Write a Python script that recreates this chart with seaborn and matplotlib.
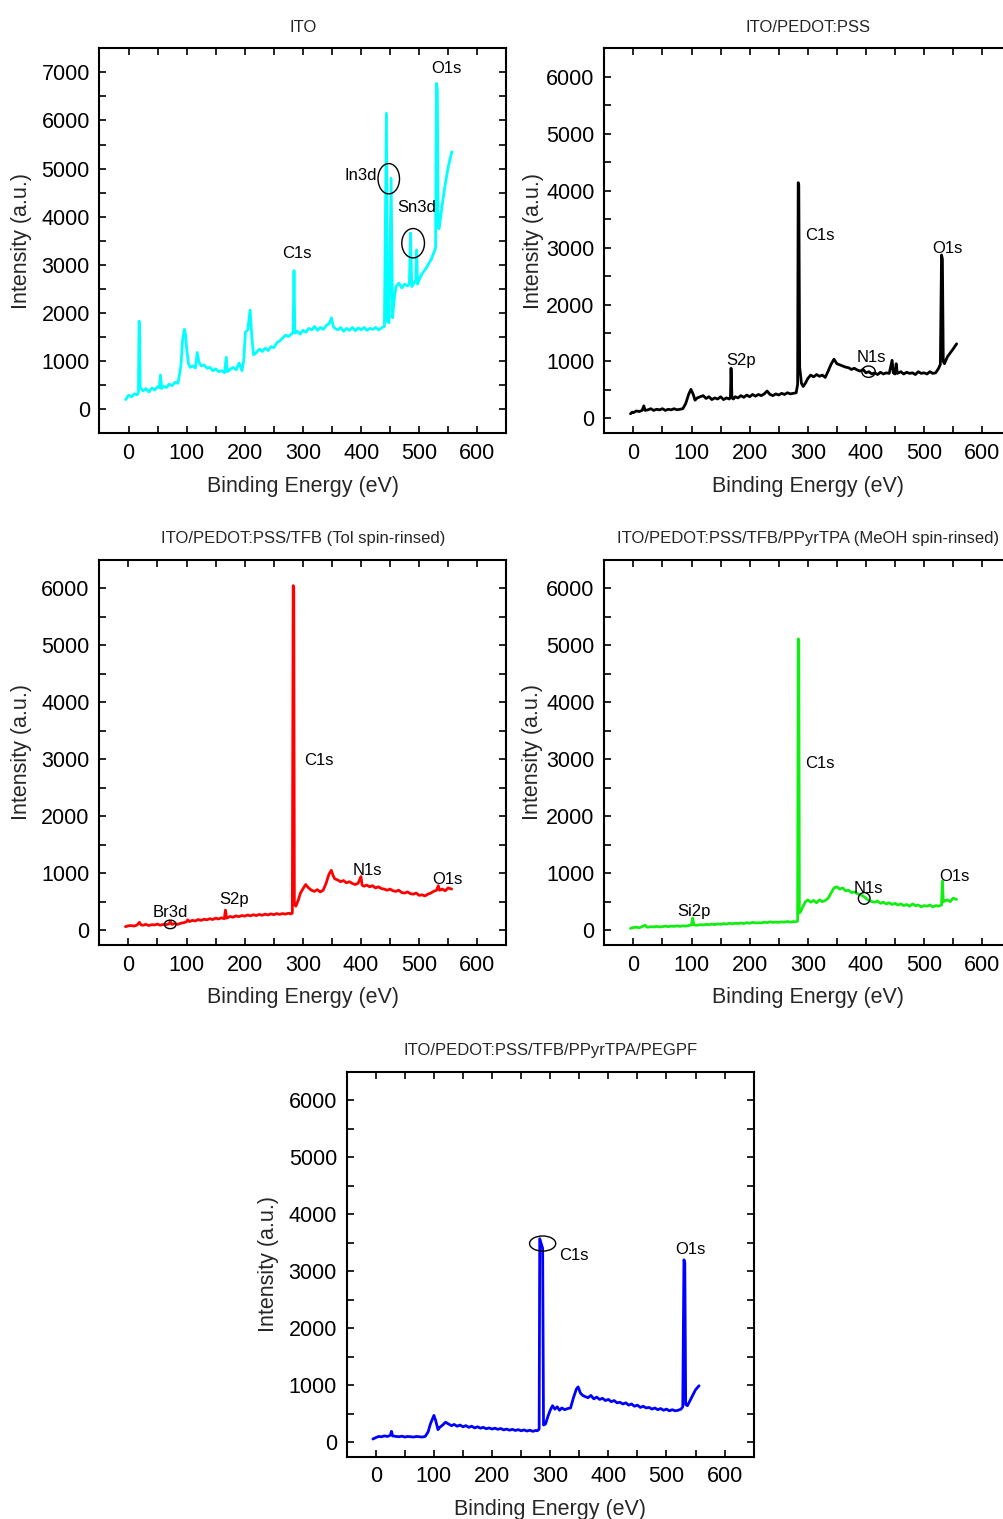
import matplotlib
matplotlib.use("Agg")
import matplotlib.pyplot as plt
from matplotlib.patches import Ellipse
from matplotlib.ticker import MultipleLocator
import pandas as pd
import seaborn as sns

# ---------------- survey spectra (binding energy in eV, counts in a.u.) ----------------
ito_ev = [-5, 0, 5, 10, 15, 17, 18, 19, 20, 25, 30, 35, 40, 45, 50, 53, 55, 57, 60, 65, 70, 75, 80, 85,
          90, 93, 96, 98, 100, 103, 106, 110, 115, 118, 121, 125, 130, 135, 140, 145, 150, 155, 160, 165,
          168, 170, 175, 180, 185, 190, 195, 198, 201, 205, 209, 212, 215, 220, 225, 230, 235, 240, 245,
          250, 255, 260, 265, 270, 275, 280, 283, 284.5, 286, 290, 295, 300, 305, 310, 315, 320, 325, 330,
          335, 340, 345, 349, 352, 355, 360, 365, 370, 375, 380, 385, 390, 395, 400, 405, 410, 415, 420,
          425, 430, 435, 440, 443.5, 445, 448, 451.5, 454, 457, 460, 465, 470, 475, 480, 483, 485, 487,
          490, 494, 495.5, 497, 500, 505, 510, 515, 520, 525, 528, 529.5, 531, 532.5, 534, 540, 545, 550, 556]
ito_counts = [200, 290, 260, 320, 300, 350, 1830, 1780, 450, 380, 430, 360, 440, 400, 470, 450, 710, 430,
              480, 450, 520, 490, 560, 540, 900, 1450, 1660, 1550, 1250, 950, 870, 900, 860, 1180, 980, 900,
              920, 850, 870, 800, 840, 780, 800, 760, 1080, 780, 830, 870, 820, 960, 800, 1000, 1600, 1650,
              2060, 1500, 1130, 1180, 1250, 1200, 1270, 1220, 1300, 1280, 1380, 1420, 1480, 1540, 1510, 1560,
              1600, 2880, 1580, 1620, 1560, 1640, 1600, 1680, 1650, 1720, 1640, 1700, 1660, 1740, 1780, 1900,
              1720, 1680, 1650, 1700, 1620, 1680, 1640, 1700, 1630, 1690, 1650, 1700, 1640, 1680, 1660, 1700,
              1650, 1690, 1720, 6150, 1820, 1800, 4800, 1900, 2300, 2550, 2620, 2520, 2600, 2560, 2620, 3660,
              2550, 2600, 2680, 3310, 2600, 2700, 2820, 2900, 3000, 3100, 3250, 3350, 6770, 6650, 3800, 3750,
              4300, 4700, 5050, 5350]

pedot_ev = [-5, -2, 0, 5, 10, 15, 18, 20, 25, 30, 35, 40, 45, 50, 55, 60, 65, 70, 75, 80, 85, 90, 95, 99,
            103, 106, 110, 115, 120, 125, 130, 135, 140, 145, 150, 155, 160, 165, 167, 168, 169.5, 172, 175,
            180, 185, 190, 195, 200, 205, 210, 215, 220, 225, 230, 235, 240, 245, 250, 255, 260, 265, 270,
            275, 280, 282.5, 283.5, 284.5, 286, 289, 292, 296, 300, 305, 310, 315, 320, 325, 330, 335, 340,
            345, 350, 355, 360, 365, 370, 375, 380, 385, 390, 395, 400, 405, 410, 415, 420, 425, 430, 435,
            440, 445, 447, 450, 452, 454, 460, 465, 470, 475, 480, 485, 490, 495, 500, 505, 510, 515, 520,
            525, 528, 530, 531.5, 533, 535, 540, 545, 550, 556]
pedot_counts = [80, 110, 100, 130, 120, 140, 220, 140, 150, 170, 140, 160, 150, 170, 140, 160, 150, 170, 150,
                160, 170, 260, 420, 510, 420, 320, 360, 380, 400, 350, 380, 330, 360, 340, 380, 330, 360, 340,
                380, 880, 360, 340, 380, 360, 400, 370, 410, 380, 420, 390, 420, 400, 430, 480, 420, 400, 430,
                410, 440, 420, 450, 430, 440, 450, 600, 4140, 4100, 900, 620, 560, 620, 700, 760, 730, 770,
                740, 760, 720, 830, 950, 1040, 960, 940, 920, 900, 890, 860, 880, 850, 830, 860, 800, 820, 780,
                800, 770, 810, 780, 800, 790, 1020, 800, 780, 960, 790, 820, 780, 810, 790, 800, 770, 820, 790,
                800, 780, 820, 790, 800, 880, 950, 2870, 2800, 1000, 960, 1080, 1150, 1220, 1310]

tfb_ev = [-5, 0, 5, 10, 15, 19, 22, 25, 30, 35, 40, 45, 50, 55, 60, 65, 70, 72, 75, 80, 85, 90, 95, 100, 102,
          105, 110, 115, 120, 125, 130, 135, 140, 145, 150, 155, 160, 165, 167, 169, 175, 180, 185, 190, 195,
          200, 205, 210, 215, 220, 225, 230, 235, 240, 245, 250, 255, 260, 265, 270, 275, 280, 282, 283.5,
          284.5, 285.5, 288, 292, 296, 300, 305, 310, 315, 320, 325, 330, 335, 340, 345, 349, 352, 355, 360,
          365, 370, 375, 380, 385, 390, 395, 400, 402, 405, 410, 415, 420, 425, 430, 435, 440, 445, 450, 455,
          460, 465, 470, 475, 480, 485, 490, 495, 500, 505, 510, 515, 520, 525, 530, 533, 535, 540, 545, 550, 556]
tfb_counts = [60, 75, 80, 70, 90, 135, 90, 85, 100, 80, 95, 90, 105, 85, 100, 95, 110, 150, 100, 115, 100, 120,
              130, 145, 180, 150, 170, 160, 185, 170, 190, 180, 200, 185, 210, 195, 215, 200, 350, 210, 240,
              225, 250, 235, 255, 245, 265, 250, 270, 255, 275, 260, 280, 265, 285, 270, 290, 275, 290, 280,
              295, 285, 300, 6050, 6000, 450, 420, 520, 650, 720, 800, 740, 700, 680, 710, 670, 700, 820, 980,
              1050, 960, 900, 880, 850, 870, 830, 850, 820, 800, 820, 940, 790, 770, 790, 760, 780, 740, 760,
              730, 720, 700, 720, 690, 680, 700, 660, 650, 670, 640, 630, 650, 610, 620, 600, 630, 650, 680,
              700, 780, 700, 720, 690, 740, 720]

tpa_ev = [-5, 0, 5, 10, 15, 20, 23, 25, 30, 35, 40, 45, 50, 55, 60, 65, 70, 75, 80, 85, 90, 95, 100, 102, 104,
          110, 115, 120, 125, 130, 135, 140, 145, 150, 155, 160, 165, 170, 175, 180, 185, 190, 195, 200, 205,
          210, 215, 220, 225, 230, 235, 240, 245, 250, 255, 260, 265, 270, 275, 280, 282.5, 283.5, 284.5,
          285.5, 288, 292, 296, 300, 305, 310, 315, 320, 325, 330, 335, 340, 345, 350, 355, 360, 365, 370,
          375, 380, 385, 390, 395, 400, 405, 410, 415, 420, 425, 430, 435, 440, 445, 450, 455, 460, 465, 470,
          475, 480, 485, 490, 495, 500, 505, 510, 515, 520, 525, 530, 531.5, 533, 535, 540, 545, 550, 556]
tpa_counts = [30, 45, 50, 40, 60, 85, 55, 50, 60, 55, 65, 55, 60, 70, 60, 70, 65, 75, 65, 75, 70, 80, 90, 210,
              90, 85, 95, 90, 100, 95, 105, 95, 110, 100, 115, 105, 120, 110, 120, 115, 125, 115, 130, 120,
              135, 125, 130, 125, 140, 130, 145, 135, 140, 135, 145, 140, 150, 140, 150, 145, 160, 5115, 5100,
              300, 330, 420, 500, 530, 490, 520, 480, 530, 500, 520, 560, 650, 740, 760, 720, 740, 690, 700,
              660, 670, 640, 620, 600, 560, 520, 500, 490, 510, 470, 490, 460, 480, 450, 470, 440, 460, 430,
              450, 420, 460, 430, 440, 410, 430, 420, 440, 410, 430, 420, 440, 860, 500, 510, 530, 500, 560, 540]

pegpf_ev = [-5, 0, 5, 10, 15, 20, 25, 27, 29, 35, 40, 45, 50, 55, 60, 65, 70, 75, 80, 85, 90, 94, 100, 103,
            107, 110, 115, 120, 125, 130, 135, 140, 145, 150, 155, 160, 165, 170, 175, 180, 185, 190, 195,
            200, 205, 210, 215, 220, 225, 230, 235, 240, 245, 250, 255, 260, 265, 270, 275, 278, 281, 282,
            287, 288.5, 292, 296, 300, 304, 308, 312, 316, 320, 325, 330, 335, 340, 345, 348, 352, 356, 360,
            365, 370, 375, 380, 385, 390, 395, 400, 405, 410, 415, 420, 425, 430, 435, 440, 445, 450, 455,
            460, 465, 470, 475, 480, 485, 490, 495, 500, 505, 510, 515, 520, 525, 528, 530, 531.5, 533, 536,
            540, 545, 550, 556]
pegpf_counts = [55, 80, 100, 95, 110, 100, 120, 190, 110, 100, 95, 105, 90, 100, 95, 90, 100, 95, 90, 100,
                180, 320, 470, 380, 220, 260, 300, 350, 320, 290, 310, 280, 300, 270, 290, 260, 280, 250, 270,
                245, 260, 235, 250, 230, 245, 225, 240, 215, 230, 210, 225, 205, 220, 200, 215, 195, 210, 190,
                205, 200, 230, 3570, 3400, 300, 320, 450, 560, 640, 580, 620, 560, 600, 570, 590, 600, 780,
                930, 970, 860, 820, 800, 780, 820, 760, 790, 750, 770, 730, 750, 710, 730, 690, 700, 670, 690,
                650, 670, 630, 650, 610, 630, 600, 610, 580, 600, 570, 590, 560, 580, 550, 570, 550, 560, 580,
                620, 3200, 3150, 660, 640, 720, 820, 920, 990]

# ---------------- sample names ----------------
titles = ["ITO",
          "ITO/PEDOT:PSS",
          "ITO/PEDOT:PSS/TFB (Tol spin-rinsed)",
          "ITO/PEDOT:PSS/TFB/PPyrTPA (MeOH spin-rinsed)",
          "ITO/PEDOT:PSS/TFB/PPyrTPA/PEGPF"]

# ---------------- peak assignments: (text, eV, counts) ----------------
ito_peaks = [("O1s", 546, 7080), ("In3d", 400, 4860), ("Sn3d", 495, 4190), ("C1s", 289, 3240)]
pedot_peaks = [("C1s", 320, 3220), ("O1s", 540, 2990), ("S2p", 185, 1010), ("N1s", 409, 1070)]
tfb_peaks = [("C1s", 327, 2970), ("N1s", 411, 1055), ("O1s", 549, 880), ("S2p", 181, 530), ("Br3d", 72, 305)]
tpa_peaks = [("C1s", 320, 2930), ("O1s", 552, 940), ("N1s", 405, 735), ("Si2p", 105, 320)]
pegpf_peaks = [("C1s", 340, 3270), ("O1s", 542, 3385)]

# circled features: (centre eV, centre counts, width eV, height counts)
ito_rings = [(447.5, 4790, 37, 630), (489.4, 3450, 39, 610)]
pedot_rings = [(404.5, 820, 23, 200)]
tfb_rings = [(72, 100, 20, 150)]
tpa_rings = [(397, 556, 20, 205)]
pegpf_rings = [(287, 3485, 45, 265)]

sns.set_style("ticks")
plt.rcParams["font.family"] = ["Liberation Sans", "DejaVu Sans"]

FW, FH = 1004, 1519
fig = plt.figure(figsize=(FW / 100, FH / 100), dpi=100)


def rect(left, top, w=407, h=385):
    return [left / FW, (FH - top - h) / FH, w / FW, h / FH]


panels = [
    dict(title=titles[0], ev=ito_ev, counts=ito_counts, color="#00FFFF", rect=rect(99.5, 48.3),
         ylim=(-500, 7500), peaks=ito_peaks, rings=ito_rings, ylab_x=-0.191),
    dict(title=titles[1], ev=pedot_ev, counts=pedot_counts, color="#000000", rect=rect(604.3, 48.3),
         ylim=(-262, 6500), peaks=pedot_peaks, rings=pedot_rings, ylab_x=-0.175),
    dict(title=titles[2], ev=tfb_ev, counts=tfb_counts, color="#FF0000", rect=rect(99.3, 560),
         ylim=(-262, 6500), peaks=tfb_peaks, rings=tfb_rings, ylab_x=-0.191),
    dict(title=titles[3], ev=tpa_ev, counts=tpa_counts, color="#11EE11", rect=rect(604.3, 560),
         ylim=(-262, 6500), peaks=tpa_peaks, rings=tpa_rings, ylab_x=-0.176),
    dict(title=titles[4], ev=pegpf_ev, counts=pegpf_counts, color="#0000FF", rect=rect(346.7, 1071.7),
         ylim=(-255, 6500), peaks=pegpf_peaks, rings=pegpf_rings, ylab_x=-0.191),
]

for p in panels:
    ax = fig.add_axes(p["rect"])
    df = pd.DataFrame({"ev": p["ev"], "counts": p["counts"]})
    sns.lineplot(data=df, x="ev", y="counts", ax=ax, color=p["color"], lw=2.0,
                 estimator=None, sort=False, zorder=2)

    ax.set_xlim(-50, 650)
    ax.set_ylim(*p["ylim"])
    ax.xaxis.set_major_locator(MultipleLocator(100))
    ax.xaxis.set_minor_locator(MultipleLocator(50))
    ax.yaxis.set_major_locator(MultipleLocator(1000))
    ax.yaxis.set_minor_locator(MultipleLocator(500))
    ax.tick_params(which="both", direction="in", top=True, right=True, length=5, width=1.2,
                   colors="black")
    ax.tick_params(which="major", labelsize=15.5, pad=7)

    for s in ax.spines.values():
        s.set_visible(True)
        s.set_color("black")
        s.set_linewidth(1.5)

    ax.set_title(p["title"], fontsize=12, pad=12)
    ax.set_xlabel("Binding Energy (eV)", fontsize=15.5, va="center")
    ax.set_ylabel("Intensity (a.u.)", fontsize=15.5, va="center")
    ax.xaxis.set_label_coords(0.5, -0.137)
    ax.yaxis.set_label_coords(p["ylab_x"], 0.5)

    for text, x, y in p["peaks"]:
        ax.text(x, y, text, fontsize=12, ha="center", va="center", color="black", zorder=4)
    for cx, cy, w, h in p["rings"]:
        ax.add_patch(Ellipse((cx, cy), w, h, fill=False, ec="black", lw=1.0, zorder=3))

fig.savefig("out.png", dpi=100)
